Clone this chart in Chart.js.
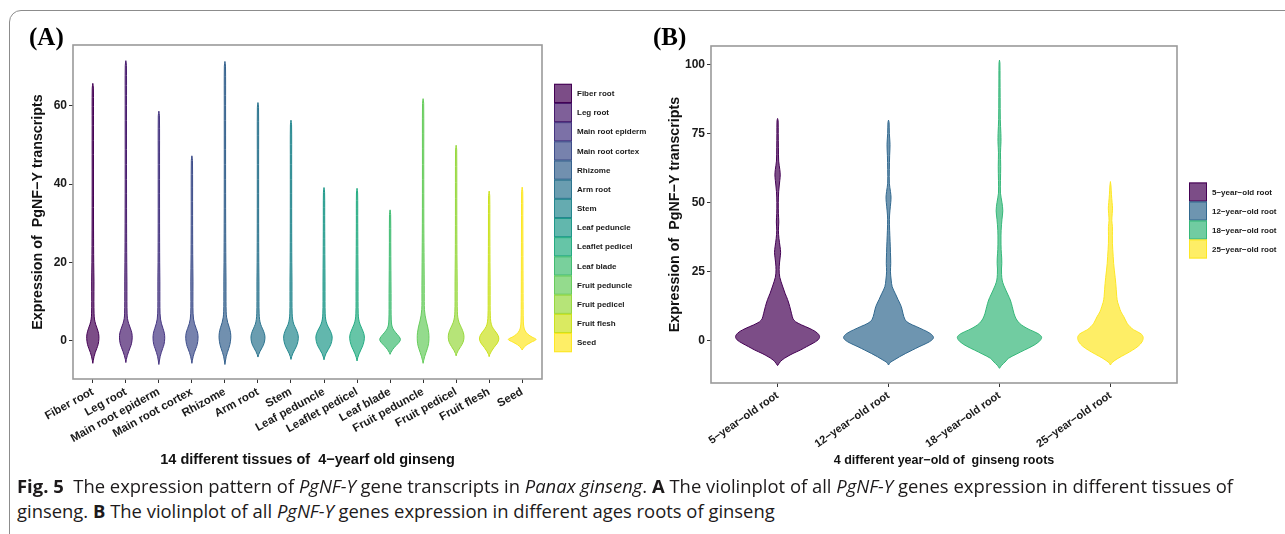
<!DOCTYPE html>
<html><head><meta charset="utf-8">
<script src="https://cdn.jsdelivr.net/npm/chart.js@4.4.0/dist/chart.umd.min.js"></script>
<style>
html,body{margin:0;padding:0;background:#fff;}
body{width:1285px;height:534px;overflow:hidden;position:relative;}
#frame{position:absolute;left:9px;top:10px;width:1400px;height:700px;border:1.5px solid #8c8c8c;border-radius:12px;box-sizing:border-box;}
canvas{position:absolute;top:0;}
#ca{left:0;}
#cb{left:640px;}
.tag{position:absolute;font-family:'Liberation Serif',serif;font-weight:bold;font-size:25px;line-height:1;color:#000;}
.cap{position:absolute;left:17px;font-family:'Open Sans',sans-serif;font-size:18px;line-height:25px;color:#1d1a1b;white-space:nowrap;transform-origin:0 0;}
.cap b{font-weight:700;}
</style></head>
<body>
<div id="frame"></div>
<canvas id="ca" width="665" height="475"></canvas>
<canvas id="cb" width="645" height="475"></canvas>
<div class="tag" style="left:29px;top:24px">(A)</div>
<div class="tag" style="left:653px;top:24px">(B)</div>
<div class="cap" id="cap1" style="top:474px"><b>Fig. 5</b>&nbsp; The expression pattern of <i>PgNF-Y</i> gene transcripts in <i>Panax ginseng</i>. <b>A</b> The violinplot of all <i>PgNF-Y</i> genes expression in different tissues of</div>
<div class="cap" id="cap2" style="top:499px">ginseng. <b>B</b> The violinplot of all <i>PgNF-Y</i> genes expression in different ages roots of ginseng</div>
<script>
// ---------- Panel A data ----------
const tissues = ['Fiber root','Leg root','Main root epiderm','Main root cortex','Rhizome','Arm root','Stem','Leaf peduncle','Leaflet pedicel','Leaf blade','Fruit peduncle','Fruit pedicel','Fruit flesh','Seed'];
const tissueColors = ['#440154','#481C6E','#453581','#3D4D8A','#34618D','#2B748E','#24878E','#1F998A','#25AC82','#40BC72','#67CC5C','#97D83F','#CBE11E','#FDE725'];
const tissueTicks = [0, 20, 40, 60];
// violin outlines: [expression value, full violin width in category units]
const fiberRoot = [[-5.8,0],[-5,0.03],[-4,0.08],[-3,0.15],[-2,0.24],[-1,0.32],[0.5,0.37],[1.8,0.35],[3,0.27],[4.2,0.17],[5.5,0.1],[7,0.075],[10,0.065],[15,0.07],[20,0.055],[28,0.045],[40,0.04],[55,0.04],[64.5,0.035],[65.7,0]];
const legRoot = [[-5.6,0],[-4.8,0.03],[-3.8,0.09],[-2.8,0.17],[-1.8,0.26],[-0.8,0.34],[0.7,0.385],[2,0.36],[3.2,0.27],[4.4,0.17],[5.6,0.1],[7,0.075],[10,0.065],[15,0.065],[20,0.055],[30,0.045],[45,0.04],[60,0.04],[70.3,0.035],[71.5,0]];
const mainRootEpiderm = [[-6.1,0],[-5.2,0.03],[-4,0.08],[-3,0.15],[-2,0.23],[-1,0.31],[0.6,0.355],[1.9,0.33],[3.1,0.25],[4.3,0.16],[5.5,0.1],[7,0.07],[10,0.06],[15,0.06],[20,0.05],[30,0.042],[45,0.04],[57.4,0.035],[58.6,0]];
const mainRootCortex = [[-5.8,0],[-5,0.03],[-4,0.08],[-3,0.15],[-2,0.24],[-1,0.32],[0.6,0.373],[1.9,0.35],[3.1,0.26],[4.3,0.16],[5.5,0.1],[7,0.07],[10,0.06],[15,0.065],[22,0.05],[32,0.042],[46,0.035],[47.2,0]];
const rhizome = [[-6.1,0],[-5.2,0.03],[-4,0.08],[-3,0.15],[-2,0.23],[-1,0.3],[0.7,0.355],[2,0.34],[3.3,0.27],[4.6,0.17],[6,0.1],[7.5,0.075],[10,0.065],[15,0.065],[20,0.055],[30,0.045],[45,0.04],[60,0.04],[70.1,0.035],[71.3,0]];
const armRoot = [[-4.2,0],[-3.6,0.04],[-2.8,0.12],[-1.8,0.25],[-0.8,0.36],[0.6,0.424],[1.8,0.39],[3,0.28],[4.2,0.16],[5.4,0.1],[7,0.07],[10,0.06],[15,0.06],[20,0.05],[30,0.042],[45,0.04],[59.6,0.035],[60.8,0]];
const stem = [[-4.8,0],[-4.1,0.04],[-3.2,0.12],[-2.2,0.24],[-1,0.37],[0.6,0.445],[1.8,0.41],[3,0.3],[4.2,0.17],[5.5,0.1],[7,0.07],[10,0.06],[15,0.06],[20,0.05],[30,0.042],[45,0.04],[55.1,0.035],[56.3,0]];
const leafPeduncle = [[-4.9,0],[-4.2,0.04],[-3.3,0.12],[-2.3,0.25],[-1,0.41],[0.6,0.494],[1.8,0.45],[3,0.32],[4.2,0.18],[5.5,0.1],[7,0.07],[10,0.06],[15,0.06],[22,0.05],[30,0.042],[37.9,0.035],[39.1,0]];
const leafletPedicel = [[-5.2,0],[-4.4,0.04],[-3.4,0.12],[-2.3,0.24],[-1,0.37],[0.6,0.445],[1.8,0.41],[3,0.3],[4.2,0.18],[5.5,0.1],[7,0.07],[10,0.06],[15,0.06],[22,0.05],[30,0.042],[37.7,0.035],[38.9,0]];
const leafBlade = [[-3.5,0],[-3,0.05],[-2.3,0.15],[-1.3,0.35],[-0.4,0.55],[0.3,0.627],[1,0.55],[2,0.35],[3,0.18],[4,0.1],[5.5,0.07],[8,0.06],[12,0.06],[18,0.05],[25,0.042],[32.2,0.035],[33.4,0]];
const fruitPeduncle = [[-5.8,0],[-5,0.04],[-4,0.1],[-3,0.18],[-2,0.26],[-0.8,0.33],[0.6,0.355],[2,0.34],[3.5,0.28],[5,0.19],[6.5,0.12],[8,0.08],[10,0.07],[14,0.07],[20,0.06],[30,0.045],[45,0.04],[60.6,0.035],[61.8,0]];
const fruitPedicel = [[-3.9,0],[-3.3,0.04],[-2.5,0.13],[-1.5,0.28],[-0.4,0.42],[0.8,0.476],[2,0.44],[3.3,0.32],[4.6,0.18],[6,0.1],[7.5,0.075],[10,0.065],[15,0.065],[22,0.05],[32,0.042],[48.7,0.035],[49.9,0]];
const fruitFlesh = [[-4.1,0],[-3.5,0.04],[-2.7,0.14],[-1.7,0.3],[-0.6,0.5],[0.4,0.585],[1.4,0.53],[2.5,0.35],[3.6,0.18],[4.8,0.1],[6.5,0.07],[9,0.06],[14,0.06],[20,0.05],[28,0.042],[37,0.035],[38.2,0]];
const seed = [[-2.4,0],[-2,0.06],[-1.5,0.15],[-1,0.3],[-0.4,0.55],[0.3,0.84],[0.9,0.6],[1.6,0.35],[2.5,0.18],[3.5,0.1],[5,0.07],[8,0.06],[12,0.055],[18,0.05],[25,0.045],[32,0.04],[38,0.035],[39.2,0]];
const tissueViolins = [fiberRoot, legRoot, mainRootEpiderm, mainRootCortex, rhizome, armRoot, stem, leafPeduncle, leafletPedicel, leafBlade, fruitPeduncle, fruitPedicel, fruitFlesh, seed];

// ---------- Panel B data ----------
const ages = ['5\u2212year\u2212old root','12\u2212year\u2212old root','18\u2212year\u2212old root','25\u2212year\u2212old root'];
const ageColors = ['#440154','#31688E','#35B779','#FDE725'];
const ageTicks = [0, 25, 50, 75, 100];
const year5 = [[-8.9,0],[-8,0.03],[-6.9,0.08],[-5.7,0.17],[-4.5,0.28],[-3.3,0.41],[-2.1,0.52],[-0.8,0.64],[0.4,0.73],[1.6,0.757],[2.8,0.72],[4,0.63],[5.2,0.5],[6.4,0.37],[7.6,0.29],[10,0.25],[12.4,0.22],[15,0.18],[17.2,0.135],[19.5,0.095],[21.4,0.063],[23,0.04],[24.5,0.03],[27,0.03],[30,0.045],[32,0.055],[34,0.045],[37,0.025],[40,0.015],[43,0.022],[46,0.015],[50,0.013],[54,0.02],[58,0.04],[60,0.048],[62,0.04],[65,0.02],[70,0.015],[75,0.012],[79.5,0.01],[80.4,0]];
const year12 = [[-8.7,0],[-7.8,0.03],[-6.9,0.1],[-5.7,0.2],[-4.5,0.31],[-3.3,0.43],[-2.1,0.55],[-0.8,0.69],[0.3,0.78],[1.3,0.81],[2.6,0.76],[4,0.63],[5.2,0.5],[6.4,0.37],[7.6,0.3],[10,0.26],[12.4,0.23],[15,0.17],[17.2,0.12],[19.6,0.066],[22,0.048],[25,0.035],[28,0.04],[32,0.035],[36,0.028],[40,0.02],[44,0.016],[47,0.025],[50,0.04],[52,0.045],[54,0.035],[57,0.015],[62,0.015],[67,0.02],[71,0.027],[75,0.015],[79,0.01],[79.8,0]];
const year18 = [[-9.9,0],[-9,0.03],[-8.1,0.075],[-7.2,0.12],[-6.3,0.16],[-4.8,0.3],[-3.3,0.45],[-1.9,0.59],[-0.3,0.71],[1.3,0.76],[2.6,0.7],[4,0.55],[5.2,0.44],[6.4,0.36],[8,0.3],[10,0.26],[12.4,0.23],[14.8,0.195],[16.6,0.155],[18.4,0.114],[20.2,0.075],[22,0.048],[24,0.038],[26,0.036],[28,0.042],[30,0.04],[33,0.03],[36.5,0.027],[40,0.03],[44,0.045],[47,0.06],[50,0.045],[53.4,0.018],[58,0.018],[63,0.022],[68,0.018],[72,0.027],[75,0.025],[80,0.015],[88,0.012],[95,0.01],[100.5,0.008],[101.5,0]];
const year25 = [[-8.7,0],[-7.8,0.03],[-6.3,0.135],[-4.8,0.27],[-3.3,0.4],[-1.9,0.5],[-0.3,0.57],[1.3,0.59],[2.6,0.55],[4,0.42],[5.2,0.35],[6.4,0.3],[8.8,0.24],[10.5,0.19],[12.4,0.156],[14,0.13],[16,0.114],[18.5,0.105],[20.8,0.096],[23,0.085],[25.6,0.07],[28,0.058],[30.5,0.05],[33,0.042],[35.3,0.036],[38,0.035],[41.3,0.036],[43.5,0.025],[46,0.032],[48,0.038],[50,0.03],[53,0.018],[56,0.01],[57.6,0]];
const ageViolins = [year5, year12, year18, year25];

// ---------- helpers ----------
const FONT = "'Liberation Sans', Arial, sans-serif";
function rgba(hex, a){ const n = parseInt(hex.slice(1),16); return 'rgba(' + (n>>16) + ',' + ((n>>8)&255) + ',' + (n&255) + ',' + a + ')'; }
function violinDataset(profile, pos, color){
  const left = profile.map(p => ({x: pos - p[1]/2, y: p[0]}));
  const right = profile.slice().reverse().map(p => ({x: pos + p[1]/2, y: p[0]}));
  return { data: left.concat(right), borderColor: color, backgroundColor: rgba(color, 0.7),
           borderWidth: 1, fill: 'shape', pointRadius: 0, tension: 0.35 };
}
const panelBox = { id: 'panelBox', afterDatasetsDraw(chart){
  const {ctx, chartArea: a} = chart; ctx.save(); ctx.strokeStyle = '#9a9a9a'; ctx.lineWidth = 1.6;
  ctx.strokeRect(a.left, a.top, a.right - a.left, a.bottom - a.top); ctx.restore(); } };
const boxLegend = { id: 'boxLegend', afterDraw(chart, args, o){
  const {ctx, chartArea: a} = chart; const n = o.labels.length, h = o.itemHeight, w = 18;
  const x0 = a.right + o.gap; const y0 = (a.top + a.bottom)/2 + o.shift - n*h/2;
  ctx.save();
  o.labels.forEach((lab, i) => {
    const y = y0 + i*h;
    ctx.fillStyle = rgba(o.colors[i], 0.7); ctx.fillRect(x0, y, w, h);
    ctx.strokeStyle = o.colors[i]; ctx.lineWidth = 1; ctx.strokeRect(x0 + 0.5, y + 0.5, w - 1, h - 1);
    ctx.fillStyle = '#1a1a1a'; ctx.font = 'bold 8px ' + FONT; ctx.textBaseline = 'middle'; ctx.textAlign = 'left';
    ctx.fillText(lab, x0 + w + 5, y + h/2 + 0.5);
  });
  ctx.restore(); } };

function violinChart(id, cats, colors, violins, yMin, yMax, yTicks, L){
  return new Chart(document.getElementById(id), {
    type: 'line',
    data: { datasets: violins.map((p, i) => violinDataset(p, i + 1, colors[i])) },
    options: {
      responsive: false, animation: false, devicePixelRatio: 1, events: [],
      layout: { padding: { left: L.padL, right: L.padR, top: L.padT, bottom: L.padB } },
      plugins: { legend: { display: false }, tooltip: { enabled: false },
                 boxLegend: { labels: cats, colors: colors, gap: 12, shift: 6, itemHeight: L.itemH } },
      scales: {
        x: { type: 'linear', min: 0.4, max: cats.length + 0.6,
             afterBuildTicks: s => { s.ticks = cats.map((c, i) => ({ value: i + 1 })); },
             afterFit: s => { s.height = L.xH; },
             ticks: { autoSkip: false, minRotation: L.rot, maxRotation: L.rot, padding: 2, color: '#1a1a1a',
                      font: { family: FONT, size: L.xTickSize, weight: 'bold' }, callback: v => cats[v - 1] },
             grid: { display: true, drawOnChartArea: false, drawTicks: true, tickLength: 4, color: '#333', lineWidth: 1 },
             border: { display: false },
             title: { display: true, text: L.xTitle, color: '#111', padding: 0, font: { family: FONT, size: L.xTitleSize, weight: 'bold' } } },
        y: { type: 'linear', min: yMin, max: yMax,
             afterBuildTicks: s => { s.ticks = yTicks.map(v => ({ value: v })); },
             afterFit: s => { s.width = L.yW; },
             ticks: { padding: 2, color: '#1a1a1a', font: { family: FONT, size: 12, weight: 'bold' } },
             grid: { display: true, drawOnChartArea: false, drawTicks: true, tickLength: 4, color: '#333', lineWidth: 1 },
             border: { display: false },
             title: { display: true, text: 'Expression of  PgNF\u2212Y transcripts', color: '#111', padding: 0,
                      font: { family: FONT, size: 14.3, weight: 'bold' } } }
      }
    },
    plugins: [panelBox, boxLegend]
  });
}

violinChart('ca', tissues, tissueColors, tissueViolins, -9.8, 75.5, tissueTicks,
  { padL: 29, padR: 123, padT: 45, padB: 6, xH: 90, yW: 44, rot: 29, itemH: 19.17, xTickSize: 11.5, xTitleSize: 14.5,
    xTitle: '14 different tissues of  4\u2212yearf old ginseng' });
violinChart('cb', ages, ageColors, ageViolins, -15.2, 106.6, ageTicks,
  { padL: 26, padR: 108, padT: 46, padB: 6.5, xH: 85.5, yW: 45, rot: 35, itemH: 19, xTickSize: 11, xTitleSize: 12.5,
    xTitle: '4 different year\u2212old of  ginseng roots' });

function fitCaption(){
  const c1 = document.getElementById('cap1'), c2 = document.getElementById('cap2');
  c1.style.transform = 'none'; c2.style.transform = 'none';
  const w = c1.getBoundingClientRect().width; const k = 1216 / w;
  c1.style.transform = 'scaleX(' + k + ')'; c2.style.transform = 'scaleX(' + k + ')';
}
fitCaption();
if (document.fonts && document.fonts.ready) document.fonts.ready.then(fitCaption);
</script>
</body></html>
